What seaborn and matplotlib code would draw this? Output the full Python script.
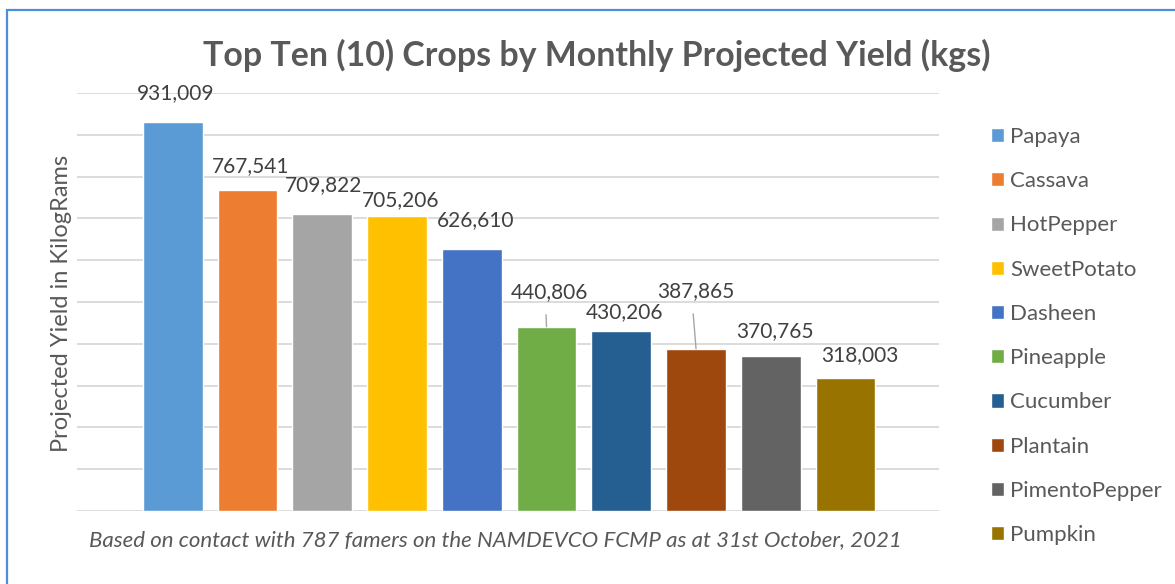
""" Top ten crops by monthly projected yield (bar chart, Excel look). """

import matplotlib
matplotlib.use("Agg")
import matplotlib.pyplot as plt
from matplotlib.patches import Rectangle
import seaborn as sns
import pandas as pd

# data
crops = ["Papaya", "Cassava", "HotPepper", "SweetPotato", "Dasheen",
         "Pineapple", "Cucumber", "Plantain", "PimentoPepper", "Pumpkin"]
yield_kg = [931009, 767541, 709822, 705206, 626610,
            440806, 430206, 387865, 370765, 318003]
colors = ["#5B9BD5", "#ED7D31", "#A5A5A5", "#FFC000", "#4472C4",
          "#70AD47", "#255E91", "#9E480E", "#636363", "#997300"]

# label placement (pixels from bar top centre), leader line flag
label_dx = [3, 3, 1, 4, 4, 3, 3, 0, 4, 14]
label_dy = [29, 24, 29, 16, 29, 35, 19, 58, 25, 23]
leader = [False, False, False, False, False, True, False, True, False, False]

TITLE = "Top Ten (10) Crops by Monthly Projected Yield (kgs)"
YLABEL = "Projected Yield in KilogRams"
NOTE = "Based on contact with 787 famers on the NAMDEVCO FCMP as at 31st October, 2021"

TXT = "#595959"
LBL = "#404040"
GRID = "#D9D9D9"

sns.set_theme(style="white")
plt.rcParams["font.family"] = ["Lato", "DejaVu Sans"]

df = pd.DataFrame({"crop": crops, "kg": yield_kg})

fig = plt.figure(figsize=(11.75, 5.84), dpi=100)
ax = fig.add_axes([77 / 1175, 1 - 511 / 584, (939 - 77) / 1175, (511 - 93) / 584])

sns.barplot(data=df, x="crop", y="kg", hue="crop", palette=colors,
            width=0.8, legend=False, ax=ax, saturation=1)

ax.set_ylim(0, 1000000)
ax.set_xlim(-1.28, 10.25)
ax.set_yticks(range(0, 1000001, 100000))
ax.set_yticklabels([])
ax.set_xticks([])
ax.set_xlabel("")
ax.set_ylabel("")
ax.tick_params(length=0)
ax.yaxis.grid(True, color=GRID, linewidth=1.3)
ax.set_axisbelow(True)
for s in ax.spines.values():
    s.set_visible(False)

# value labels
for i, cont in enumerate(ax.containers):
    bar = cont.patches[0]
    cx = bar.get_x() + bar.get_width() / 2
    top = bar.get_height()
    kw = {}
    if leader[i]:
        kw["arrowprops"] = dict(arrowstyle="-", color="#A6A6A6", lw=1,
                                relpos=(0.45, 0), shrinkA=7, shrinkB=0)
    ax.annotate(f"{yield_kg[i]:,}", xy=(cx, top),
                xytext=(label_dx[i], label_dy[i]), textcoords="offset pixels",
                ha="center", va="center", fontsize=15, color=LBL, **kw)

# legend
ax.legend(handles=[c.patches[0] for c in ax.containers], labels=crops,
          loc="upper left", bbox_to_anchor=(991 / 1175, 1 - 127 / 584),
          bbox_transform=fig.transFigure, frameon=False, fontsize=16,
          labelcolor=TXT, handlelength=0.6, handleheight=0.6,
          handletextpad=0.25, labelspacing=1.09, borderaxespad=0, borderpad=0)

fig.text(597 / 1175, 1 - 55 / 584, TITLE, ha="center", va="center",
         fontsize=24.4, fontweight="bold", color=TXT)
fig.text(62 / 1175, 1 - 303 / 584, YLABEL, ha="center", va="center",
         rotation=90, fontsize=17, color=TXT)
fig.text(495 / 1175, 1 - 540 / 584, NOTE, ha="center", va="center",
         fontsize=16, style="italic", color=TXT)

# chart border
fig.patches.append(Rectangle((7 / 1175, -0.1), 1.2, 1.1 - 10 / 584,
                             transform=fig.transFigure, fill=False,
                             edgecolor="#4A8FDB", linewidth=1.6))

fig.savefig("out.png", dpi=100)
